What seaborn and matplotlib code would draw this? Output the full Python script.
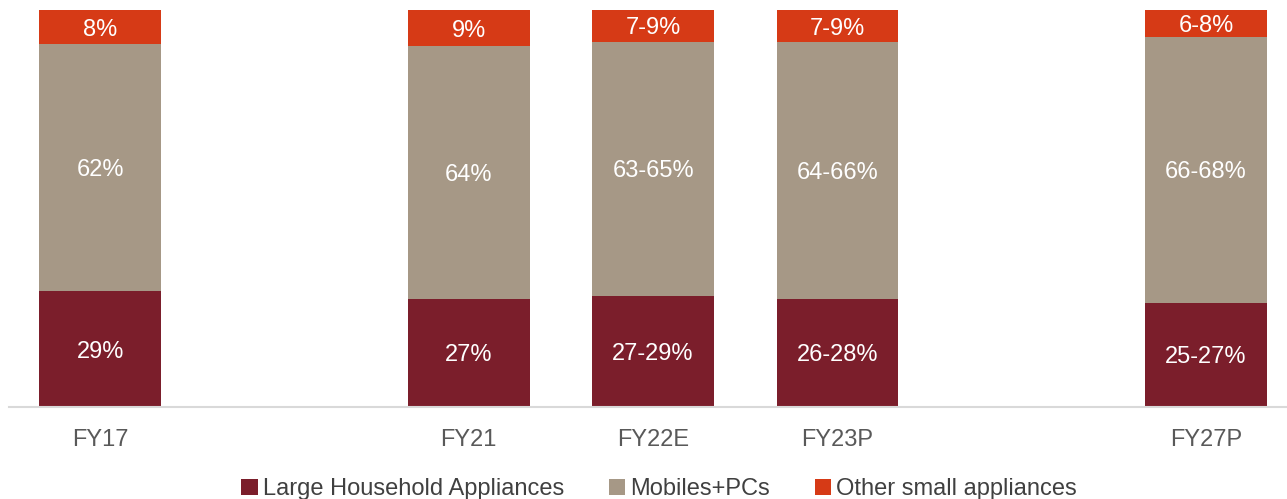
import matplotlib
matplotlib.use("Agg")
import matplotlib.pyplot as plt
from matplotlib.patches import Patch
import pandas as pd
import seaborn as sns

categories = ["FY17", "FY21", "FY22E", "FY23P", "FY27P"]
# blank slots keep the gaps between the years
slot_order = ["FY17", "", "FY21", "FY22E", "FY23P", " ", "FY27P"]

large_hh = [29.2, 27.2, 28.0, 27.2, 26.2]
mobiles_pcs = [62.2, 63.7, 64.0, 64.7, 67.0]
other_small = [8.6, 9.1, 8.0, 8.1, 6.8]

large_lbl = ["29%", "27%", "27-29%", "26-28%", "25-27%"]
mobiles_lbl = ["62%", "64%", "63-65%", "64-66%", "66-68%"]
other_lbl = ["8%", "9%", "7-9%", "7-9%", "6-8%"]

series_names = ["Large Household Appliances", "Mobiles+PCs", "Other small appliances"]
colors = ["#7B1E2B", "#A69886", "#D63A16"]


def main():
    sns.set_style("white")
    plt.rcParams["font.family"] = ["Liberation Sans", "DejaVu Sans"]

    df = pd.DataFrame({"year": categories, "large": large_hh,
                       "mobiles": mobiles_pcs, "other": other_small})
    df["lm"] = df["large"] + df["mobiles"]
    df["total"] = df["lm"] + df["other"]

    fig = plt.figure(figsize=(12.87, 4.99), dpi=100)
    ax = fig.add_axes([0.007, 0.1844, 0.993, 0.7956])

    # stacked look: draw cumulative heights, tallest first
    for col, c in zip(["total", "lm", "large"], colors[::-1]):
        sns.barplot(data=df, x="year", y=col, order=slot_order, color=c,
                    saturation=1, width=0.66, ax=ax, errorbar=None,
                    linewidth=0)

    for i, cat in enumerate(categories):
        pos = slot_order.index(cat)
        bottoms = [0, large_hh[i], large_hh[i] + mobiles_pcs[i]]
        heights = [large_hh[i], mobiles_pcs[i], other_small[i]]
        labels = [large_lbl[i], mobiles_lbl[i], other_lbl[i]]
        for b, h, t in zip(bottoms, heights, labels):
            ax.text(pos, b + h / 2, t, ha="center", va="center_baseline",
                    color="white", fontsize=17)

    ax.set_ylim(0, 100)
    ax.set_xlim(-0.495, 6.44)
    ax.set_xlabel("")
    ax.set_ylabel("")
    ax.set_yticks([])
    for s in ["top", "right", "left"]:
        ax.spines[s].set_visible(False)
    ax.spines["bottom"].set_color("#D9D9D9")
    ax.spines["bottom"].set_linewidth(1.5)
    ax.tick_params(axis="x", length=0, labelsize=17, labelcolor="#595959", pad=16)

    handles = [Patch(facecolor=c, edgecolor="none") for c in colors]
    fig.legend(handles, series_names, loc="lower center", ncol=3, frameon=False,
               fontsize=17, labelcolor="#404040", handlelength=0.7,
               handleheight=0.7, handletextpad=0.2, columnspacing=1.9,
               bbox_to_anchor=(0.512, -0.045))

    fig.savefig("out.png", dpi=100)


if __name__ == "__main__":
    main()
